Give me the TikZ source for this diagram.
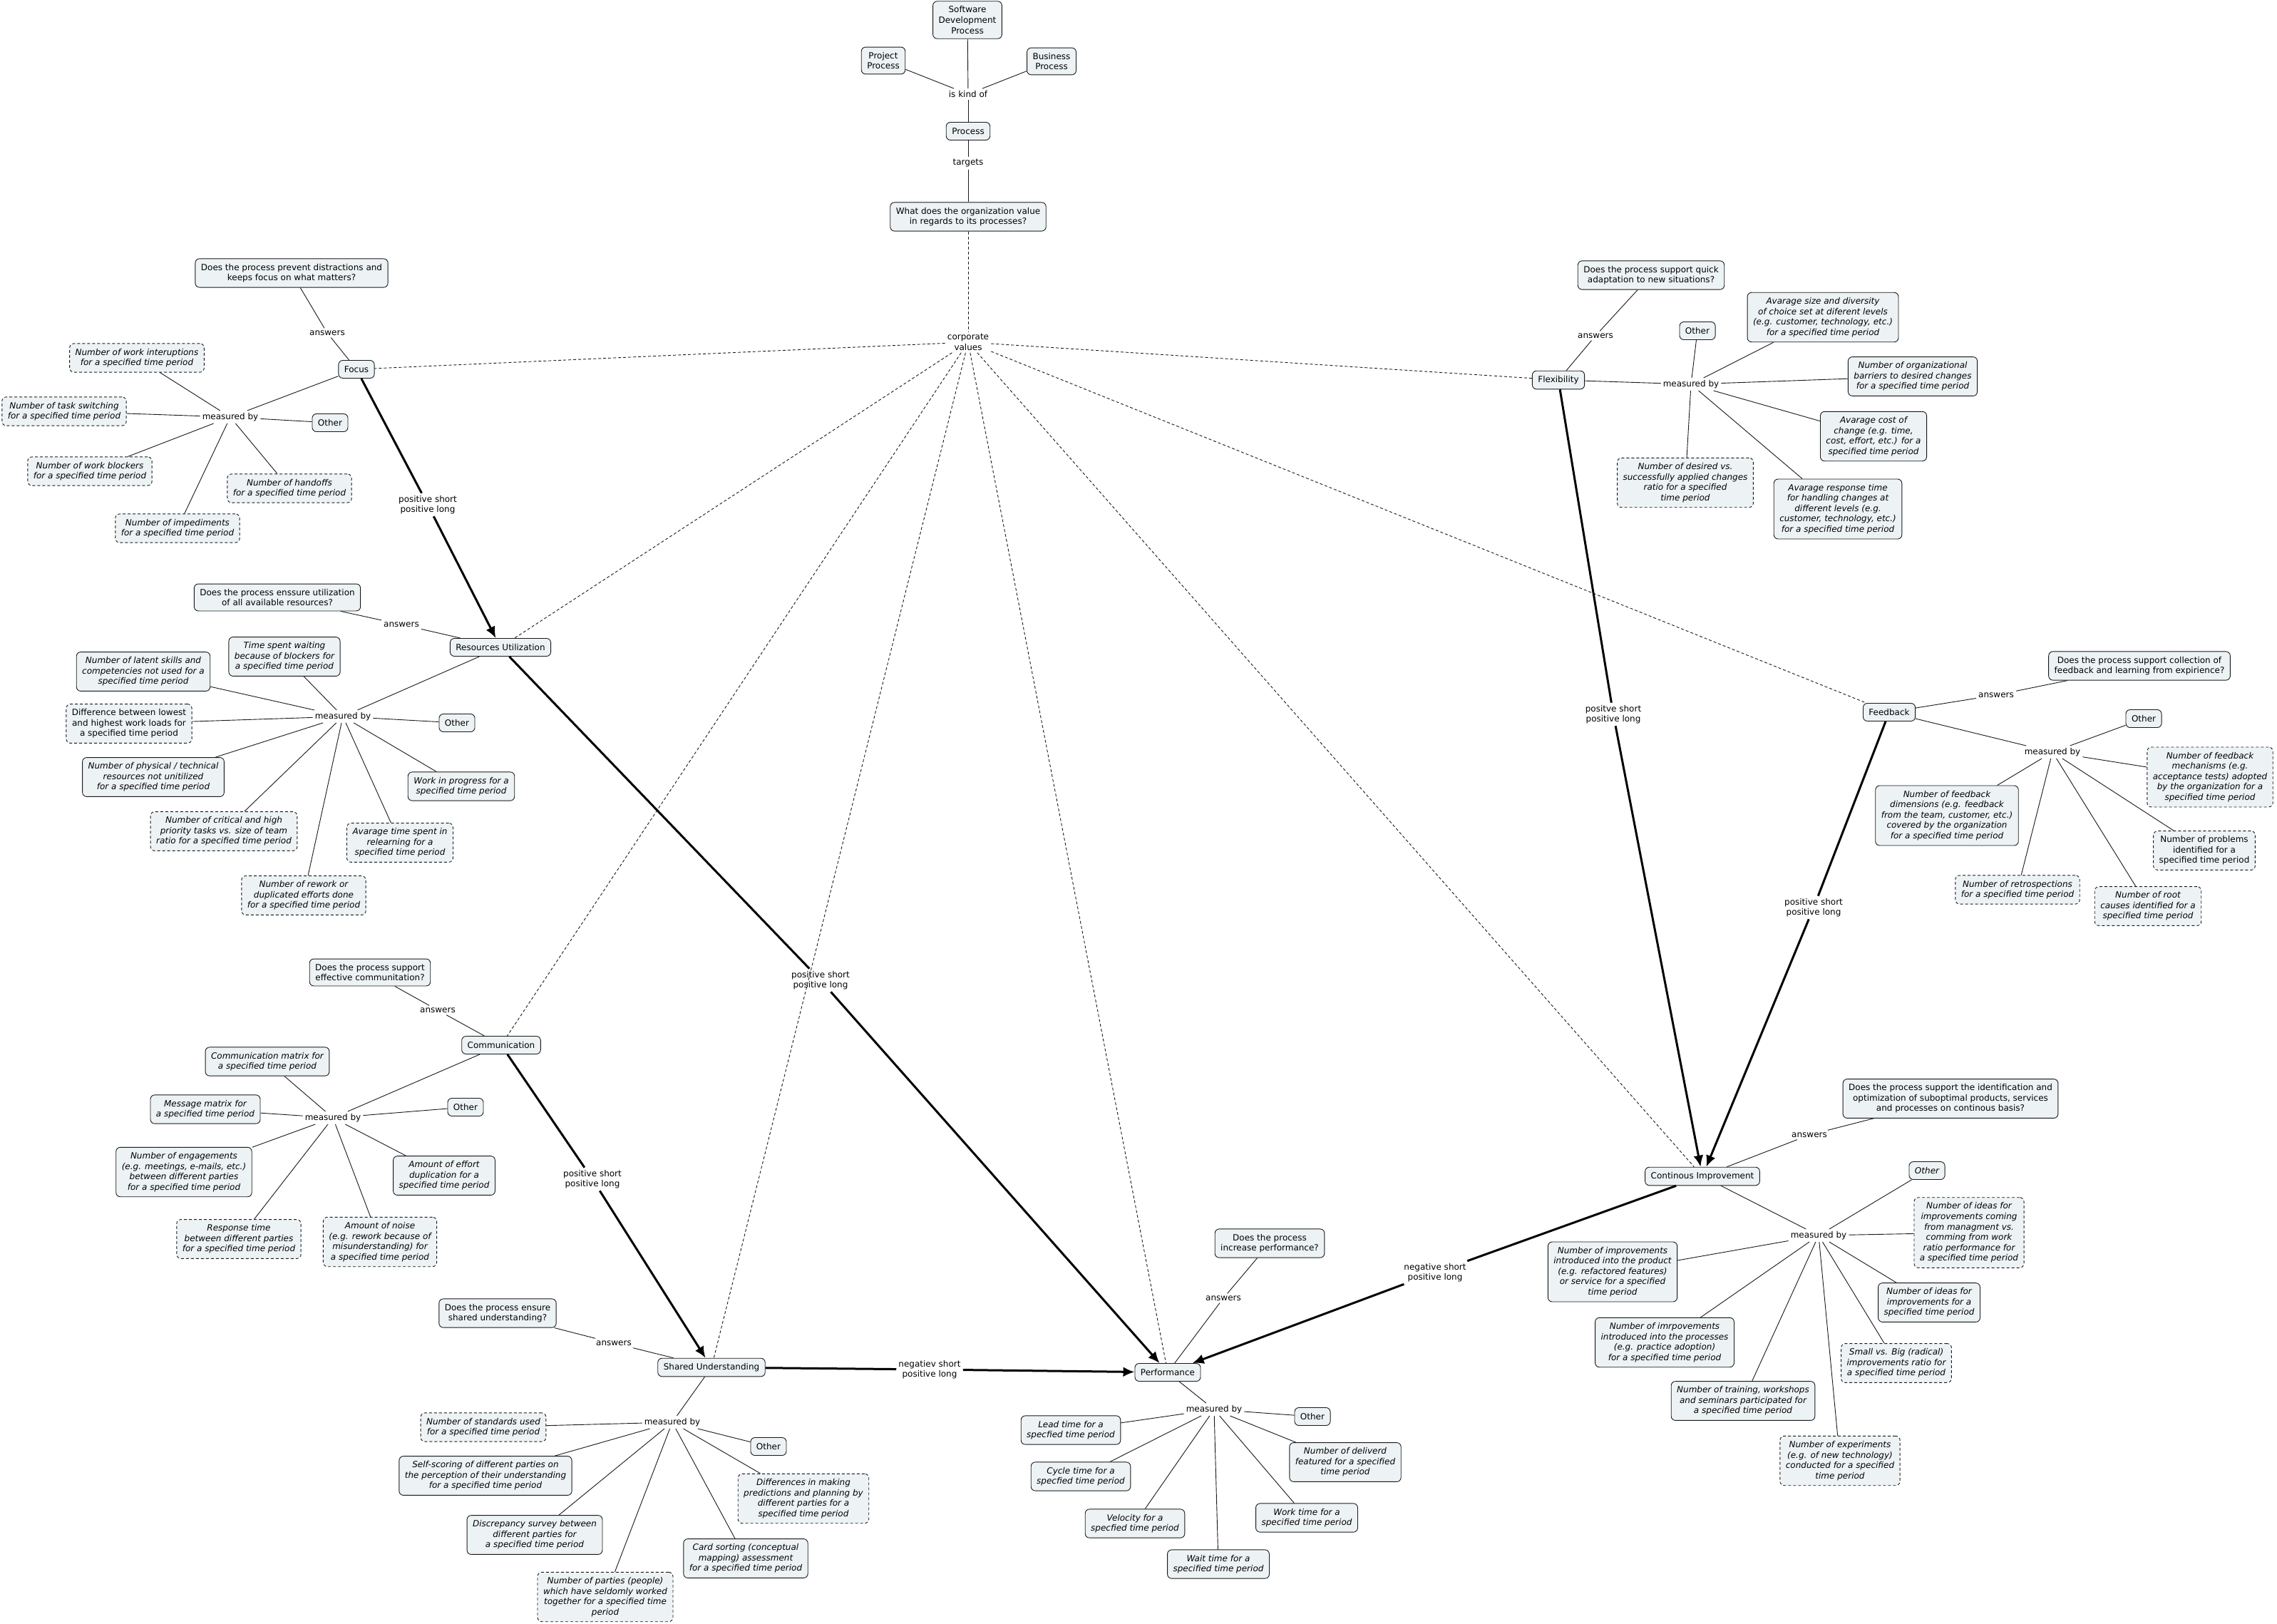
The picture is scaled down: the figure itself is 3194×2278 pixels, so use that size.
\documentclass[tikz,border=0pt]{standalone}
\usepackage{fontspec}
\setmainfont{DejaVu Sans}
\usetikzlibrary{arrows.meta}
\definecolor{boxfill}{HTML}{EDF3F5}
\newcommand\dfont{\fontsize{12}{14.6}\selectfont}
\begin{document}
\begin{tikzpicture}[x=1pt,y=-1pt,
 every node/.style={font=\dfont},
 box/.style={draw=black!90, fill=boxfill, rounded corners=6pt, align=center, inner xsep=8pt, inner ysep=7pt, minimum height=25pt, line width=0.9pt},
 dbox/.style={box, dash pattern=on 4pt off 3pt},
 met/.style={box, font=\dfont\itshape},
 dmet/.style={dbox, font=\dfont\itshape},
 lbl/.style={inner sep=3pt, align=center},
 con/.style={line width=0.9pt, black!90},
 cvl/.style={line width=0.9pt, dash pattern=on 4pt off 3pt, black!90},
 strong/.style={line width=3pt},
 strongarrow/.style={line width=3pt, -{Latex[length=16pt,width=14pt]}},
]
\useasboundingbox[fill=white] (0,0) rectangle (3194,2278);

% ---------- top ----------
\node[box] (sdp) at (1357,28) {Software\\Development\\Process};
\node[box] (pp) at (1239,85) {Project\\Process};
\node[box] (bp) at (1475,86) {Business\\Process};
\node[lbl] (kind) at (1358,132) {is kind of};
\node[box] (proc) at (1358,184) {Process};
\node[lbl] (targ) at (1358,229) {targets};
\node[box] (wq) at (1358,304) {What does the organization value\\in regards to its processes?};
\node[lbl] (cv) at (1358,480) {corporate\\values};

% ---------- Focus ----------
\node[box] (fq) at (409,383) {Does the process prevent distractions and\\keeps focus on what matters?};
\node[lbl] (fans) at (459,467) {answers};
\node[box] (focus) at (500,518) {Focus};
\node[lbl] (fmb) at (323,585) {measured by};
\node[dmet] (f1) at (192,502) {Number of work interuptions\\for a specified time period};
\node[dmet] (f2) at (90,577) {Number of task switching\\for a specified time period};
\node[box] (fo) at (463,593) {Other};
\node[dmet] (f3) at (126,661) {Number of work blockers\\for a specified time period};
\node[dmet] (f4) at (406,685) {Number of handoffs\\for a specified time period};
\node[dmet] (f5) at (249,741) {Number of impediments\\for a specified time period};
\node[lbl] (fl) at (600,708) {positive short\\positive long};

% ---------- Resources Utilization ----------
\node[box] (rq) at (389,838) {Does the process enssure utilization\\of all available resources?};
\node[lbl] (rans) at (563,876) {answers};
\node[box] (ru) at (702,908) {Resources Utilization};
\node[lbl] (rmb) at (481,1005) {measured by};
\node[met] (r1) at (399,921) {Time spent waiting\\because of blockers for\\a specified time period};
\node[met] (r2) at (201,942) {Number of latent skills and\\competencies not used for a\\specified time period};
\node[dbox] (r3) at (181,1015) {Difference between lowest\\and highest work loads for\\a specified time period};
\node[box] (ro) at (641,1014) {Other};
\node[met] (r4) at (215,1090) {Number of physical / technical\\resources not unitilized\\for a specified time period};
\node[met] (r5) at (647,1103) {Work in progress for a\\specified time period};
\node[dmet] (r6) at (314,1166) {Number of critical and high\\priority tasks vs. size of team\\ratio for a specified time period};
\node[dmet] (r7) at (561,1182) {Avarage time spent in\\relearning for a\\specified time period};
\node[dmet] (r8) at (426,1256) {Number of rework or\\duplicated efforts done\\for a specified time period};
\node[lbl] (rl) at (1151,1375) {positive short\\positive long};

% ---------- Communication ----------
\node[box] (cq) at (519,1364) {Does the process support\\effective communitation?};
\node[lbl] (cans) at (614,1417) {answers};
\node[box] (com) at (703,1466) {Communication};
\node[lbl] (cmb) at (467,1568) {measured by};
\node[met] (c1) at (375,1489) {Communication matrix for\\a specified time period};
\node[met] (c2) at (288,1556) {Message matrix for\\a specified time period};
\node[box] (co) at (653,1553) {Other};
\node[met] (c3) at (258,1644) {Number of engagements\\(e.g. meetings, e-mails, etc.)\\between different parties\\for a specified time period};
\node[met] (c4) at (623,1649) {Amount of effort\\duplication for a\\specified time period};
\node[dmet] (c5) at (335,1738) {Response time\\between different parties\\for a specified time period};
\node[dmet] (c6) at (533,1742) {Amount of noise\\(e.g. rework because of\\misunderstanding) for\\a specified time period};
\node[lbl] (cl) at (831,1654) {positive short\\positive long};

% ---------- Shared Understanding ----------
\node[box] (sq) at (698,1842) {Does the process ensure\\shared understanding?};
\node[lbl] (sans) at (861,1884) {answers};
\node[box] (su) at (998,1918) {Shared Understanding};
\node[lbl] (smb) at (943,1995) {measured by};
\node[dmet] (s1) at (678,2002) {Number of standards used\\for a specified time period};
\node[box] (so) at (1078,2029) {Other};
\node[met] (s2) at (681,2070) {Self-scoring of different parties on\\the perception of their understanding\\for a specified time period};
\node[dmet] (s3) at (1127,2102) {Differences in making\\predictions and planning by\\different parties for a\\specified time period};
\node[met] (s4) at (750,2153) {Discrepancy survey between\\different parties for\\a specified time period};
\node[met] (s5) at (1046,2186) {Card sorting (conceptual\\mapping) assessment\\for a specified time period};
\node[dmet] (s6) at (849,2240) {Number of parties (people)\\which have seldomly worked\\together for a specified time\\period};
\node[lbl] (sl) at (1304,1921) {negatiev short\\positive long};

% ---------- Performance ----------
\node[box] (pq) at (1781,1744) {Does the process\\increase performance?};
\node[lbl] (pans) at (1716,1821) {answers};
\node[box] (perf) at (1638,1925) {Performance};
\node[lbl] (pmb) at (1703,1977) {measured by};
\node[box] (po) at (1841,1987) {Other};
\node[met] (p1) at (1502,2006) {Lead time for a\\specfied time period};
\node[met] (p2) at (1516,2071) {Cycle time for a\\specfied time period};
\node[met] (p3) at (1887,2051) {Number of deliverd\\featured for a specified\\time period};
\node[met] (p4) at (1592,2137) {Velocity for a\\specfied time period};
\node[met] (p5) at (1833,2129) {Work time for a\\specified time period};
\node[met] (p6) at (1709,2194) {Wait time for a\\specified time period};

% ---------- Flexibility ----------
\node[box] (xq) at (2316,386) {Does the process support quick\\adaptation to new situations?};
\node[lbl] (xans) at (2238,471) {answers};
\node[box] (flex) at (2186,533) {Flexibility};
\node[lbl] (xmb) at (2372,539) {measured by};
\node[box] (xo) at (2381,464) {Other};
\node[met] (x1) at (2557,445) {Avarage size and diversity\\of choice set at diferent levels\\(e.g. customer, technology, etc.)\\for a specified time period};
\node[met] (x2) at (2683,528) {Number of organizational\\barriers to desired changes\\for a specified time period};
\node[met] (x3) at (2628,612) {Avarage cost of\\change (e.g. time,\\cost, effort, etc.) for a\\specified time period};
\node[dmet] (x4) at (2364,677) {Number of desired vs.\\successfully applied changes\\ratio for a specified\\time period};
\node[met] (x5) at (2578,714) {Avarage response time\\for handling changes at\\different levels (e.g.\\customer, technology, etc.)\\for a specified time period};
\node[lbl] (xl) at (2263,1002) {positve short\\positive long};

% ---------- Feedback ----------
\node[box] (bq) at (3001,934) {Does the process support collection of\\feedback and learning from expirience?};
\node[lbl] (bans) at (2800,975) {answers};
\node[box] (fb) at (2650,999) {Feedback};
\node[lbl] (bmb) at (2879,1055) {measured by};
\node[box] (bo) at (3007,1008) {Other};
\node[dmet] (b1) at (3100,1090) {Number of feedback\\mechanisms (e.g.\\acceptance tests) adopted\\by the organization for a\\specified time period};
\node[met] (b2) at (2731,1144) {Number of feedback\\dimensions (e.g. feedback\\from the team, customer, etc.)\\covered by the organization\\for a specified time period};
\node[dbox] (b3) at (3092,1193) {Number of problems\\identified for a\\specified time period};
\node[dmet] (b4) at (2830,1248) {Number of retrospections\\for a specified time period};
\node[dmet] (b5) at (3013,1271) {Number of root\\causes identified for a\\specified time period};
\node[lbl] (bl) at (2544,1273) {positive short\\positive long};

% ---------- Continous Improvement ----------
\node[box] (iq) at (2736,1541) {Does the process support the identification and\\optimization of suboptimal products, services\\and processes on continous basis?};
\node[lbl] (ians) at (2538,1592) {answers};
\node[box] (ci) at (2388,1650) {Continous Improvement};
\node[lbl] (imb) at (2551,1733) {measured by};
\node[met] (io) at (2703,1642) {Other};
\node[dmet] (i1) at (2762,1729) {Number of ideas for\\improvements coming\\from managment vs.\\comming from work\\ratio performance for\\a specified time period};
\node[met] (i2) at (2706,1827) {Number of ideas for\\improvements for a\\specified time period};
\node[dmet] (i3) at (2660,1912) {Small vs. Big (radical)\\improvements ratio for\\a specified time period};
\node[dmet] (i4) at (2581,2049) {Number of experiments\\(e.g. of new technology)\\conducted for a specified\\time period};
\node[met] (i5) at (2445,1965) {Number of training, workshops\\and seminars participated for\\a specified time period};
\node[met] (i6) at (2335,1883) {Number of imrpovements\\introduced into the processes\\(e.g. practice adoption)\\for a specified time period};
\node[met] (i7) at (2262,1784) {Number of improvements\\introduced into the product\\(e.g. refactored features)\\or service for a specified\\time period};
\node[lbl] (il) at (2013,1785) {negative short\\positive long};

% ---------- connectors ----------
\draw[con] (sdp) -- (kind);
\draw[con] (pp) -- (kind);
\draw[con] (bp) -- (kind);
\draw[con] (kind) -- (proc);
\draw[con] (proc) -- (targ);
\draw[con] (targ) -- (wq);
\draw[cvl] (wq) -- (cv);
\foreach \n in {focus,ru,com,su,perf,ci,fb,flex} \draw[cvl] (cv) -- (\n);

\draw[con] (fq) -- (fans); \draw[con] (fans) -- (focus);
\draw[con] (focus) -- (fmb);
\foreach \n in {f1,f2,fo,f3,f4,f5} \draw[con] (fmb) -- (\n);

\draw[con] (rq) -- (rans); \draw[con] (rans) -- (ru);
\draw[con] (ru) -- (rmb);
\foreach \n in {r1,r2,r3,ro,r4,r5,r6,r7,r8} \draw[con] (rmb) -- (\n);

\draw[con] (cq) -- (cans); \draw[con] (cans) -- (com);
\draw[con] (com) -- (cmb);
\foreach \n in {c1,c2,co,c3,c4,c5,c6} \draw[con] (cmb) -- (\n);

\draw[con] (sq) -- (sans); \draw[con] (sans) -- (su);
\draw[con] (su) -- (smb);
\foreach \n in {s1,so,s2,s3,s4,s5,s6} \draw[con] (smb) -- (\n);

\draw[con] (pq) -- (pans); \draw[con] (pans) -- (perf);
\draw[con] (perf) -- (pmb);
\foreach \n in {po,p1,p2,p3,p4,p5,p6} \draw[con] (pmb) -- (\n);

\draw[con] (xq) -- (xans); \draw[con] (xans) -- (flex);
\draw[con] (flex) -- (xmb);
\foreach \n in {xo,x1,x2,x3,x4,x5} \draw[con] (xmb) -- (\n);

\draw[con] (bq) -- (bans); \draw[con] (bans) -- (fb);
\draw[con] (fb) -- (bmb);
\foreach \n in {bo,b1,b2,b3,b4,b5} \draw[con] (bmb) -- (\n);

\draw[con] (iq) -- (ians); \draw[con] (ians) -- (ci);
\draw[con] (ci) -- (imb);
\foreach \n in {io,i1,i2,i3,i4,i5,i6,i7} \draw[con] (imb) -- (\n);

% thick causal arrows
\draw[strong] (focus) -- (fl); \draw[strongarrow] (fl) -- (ru);
\draw[strong] (ru) -- (rl); \draw[strongarrow] (rl) -- (perf);
\draw[strong] (com) -- (cl); \draw[strongarrow] (cl) -- (su);
\draw[strong] (su) -- (sl); \draw[strongarrow] (sl) -- (perf);
\draw[strong] (flex) -- (xl); \draw[strongarrow] (xl) -- (ci);
\draw[strong] (fb) -- (bl); \draw[strongarrow] (bl) -- (ci);
\draw[strong] (ci) -- (il); \draw[strongarrow] (il) -- (perf);
\end{tikzpicture}
\end{document}
